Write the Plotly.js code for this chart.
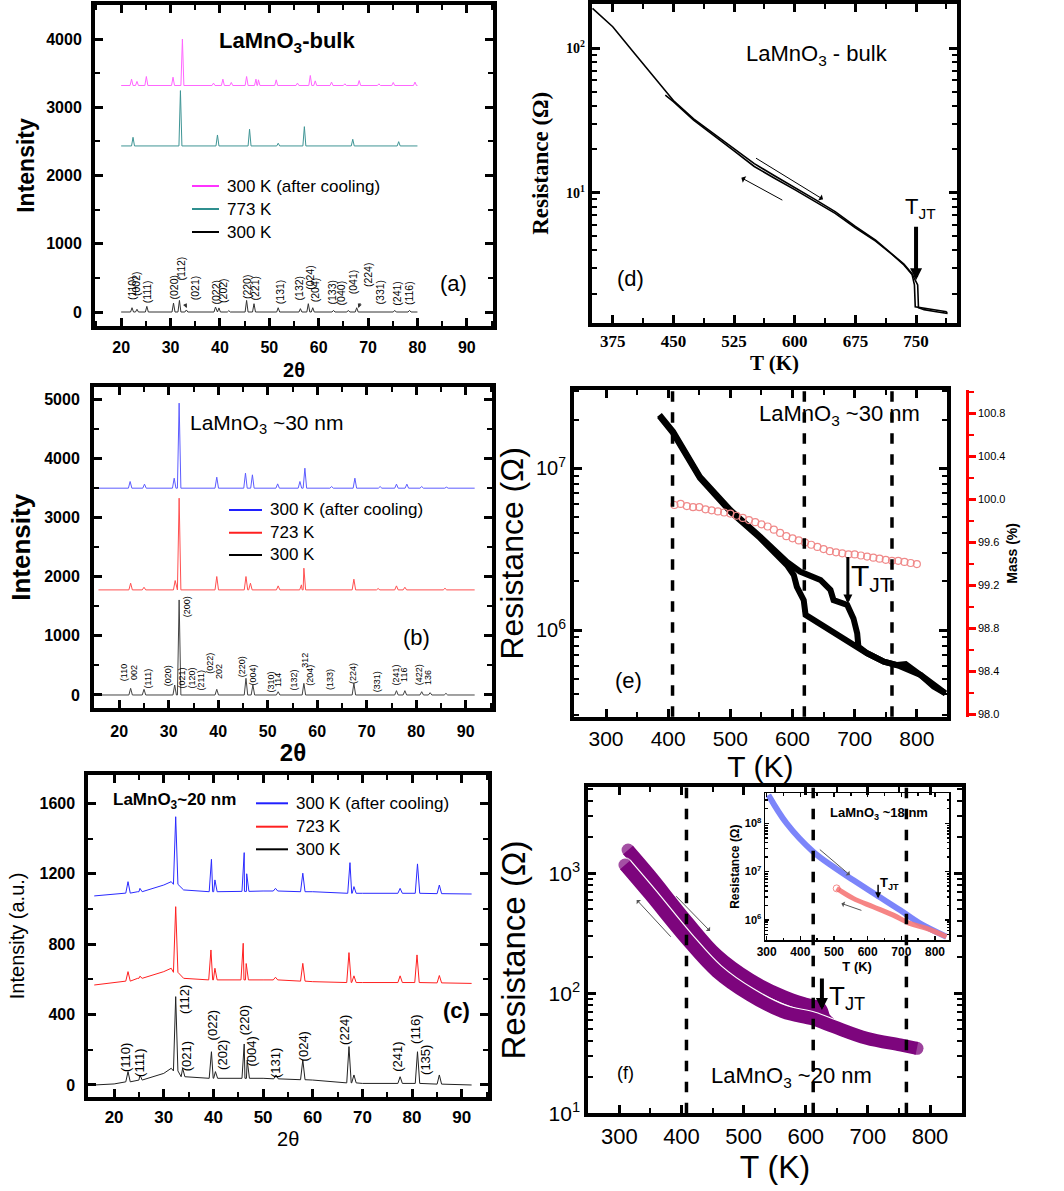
<!DOCTYPE html>
<html><head><meta charset="utf-8">
<script src="https://cdn.plot.ly/plotly-3.0.1.min.js"></script>
<style>body{margin:0;background:#fff}#plot{width:1064px;height:1191px}</style>
</head><body><div id="plot"></div>
<script>
// ================= DATA =================
// Legend names
const namesA = ['300 K (after cooling)', '773 K', '300 K'];
const namesBC = ['300 K (after cooling)', '723 K', '300 K'];

// (a) LaMnO3 bulk XRD : peak positions (2θ) and peak tops (intensity), flat baselines
const a_cool_pos = [22.1, 23.2, 25.1, 30.5, 32.4, 38.7, 40.6, 42.3, 45.4, 47.3, 47.8, 51.4, 55.7, 58.3, 59.3, 62.6, 65.3, 68.2, 72.2, 75.1, 79.5];
const a_cool_top = [3413, 3380, 3452, 3442, 4000, 3355, 3413, 3365, 3452, 3413, 3403, 3403, 3355, 3467, 3388, 3370, 3345, 3393, 3345, 3365, 3370];
const a_cool_base = 3320;
const a_hot_pos = [22.4, 32.0, 39.5, 46.0, 51.8, 57.1, 66.9, 76.2];
const a_hot_top = [2561, 3245, 2595, 2679, 2474, 2717, 2532, 2497];
const a_hot_base = 2434;
const a_rt_pos = [22.2, 23.2, 25.2, 30.6, 31.8, 33.2, 39.1, 39.8, 41.8, 45.4, 46.9, 51.8, 56.3, 57.9, 58.8, 63.0, 66.0, 67.7, 75.4, 78.4];
const a_rt_top = [63, 40, 83, 130, 170, 30, 73, 60, 20, 170, 122, 63, 49, 122, 63, 24, 24, 63, 24, 24];
const a_rt_base = 0;
const a_range2t = [20, 80];
const a_hkl = ['(110)','(002)','(111)','(020)','(112)','(021)','(022)','(202)','(220)','(221)','(131)','(132)','(024)','(204)','(133)','(040)','(041)','(224)','(331)','(241)','(116)'];
const a_hkl_2t = [22.2, 23.0, 25.3, 30.6, 32.2, 35.0, 39.3, 40.6, 45.5, 47.2, 52.2, 56.1, 58.2, 59.3, 62.6, 64.6, 67.0, 70.0, 72.5, 75.8, 78.3];
const a_hkl_I = [352, 425, 293, 367, 645, 352, 293, 322, 367, 352, 293, 352, 513, 322, 293, 279, 440, 542, 293, 279, 279];

// (b) LaMnO3 ~30 nm XRD
const b_cool_pos = [22.2, 25.1, 31.1, 32.1, 39.7, 45.5, 46.9, 52.0, 56.5, 57.5, 62.9, 67.6, 72.7, 76.0, 78.1, 81.1, 86.1];
const b_cool_top = [3610, 3565, 3666, 4935, 3683, 3751, 3723, 3570, 3610, 3835, 3525, 3666, 3525, 3565, 3565, 3525, 3514];
const b_cool_base = 3497;
const b_hot_pos = [22.3, 25.0, 31.3, 32.1, 39.7, 45.6, 46.5, 52.1, 56.8, 57.3, 67.4, 72.3, 76.0, 77.7, 85.8];
const b_hot_top = [1890, 1822, 1935, 3328, 2003, 2003, 1890, 1845, 1862, 2144, 1958, 1800, 1845, 1822, 1805];
const b_hot_base = 1777;
const b_rt_pos = [22.3, 25.0, 31.2, 32.1, 39.7, 45.6, 47.0, 52.1, 57.3, 67.4, 76.0, 77.7, 81.1, 82.8, 86.0];
const b_rt_top = [113, 96, 169, 1607, 96, 282, 169, 56, 197, 197, 73, 73, 56, 39, 28];
const b_rt_base = 0;
const b_range2t = [15.8, 91.8];
const b_hkl = ['(110','002','(111)','(020)','(200)','(021)','(120)','(211)','(022)','202','(220)','(004)','(310)','114','(132)','312','(204)','(133)','(224)','(331)','(241)','116','(422)','136'];
const b_hkl_2t = [21.0, 23.0, 25.9, 29.9, 33.6, 32.6, 34.6, 36.6, 38.3, 40.0, 44.7, 47.1, 50.6, 52.1, 55.2, 57.5, 58.5, 62.6, 67.2, 72.0, 76.0, 77.5, 80.6, 82.4];
const b_hkl_I = [372, 372, 288, 321, 1494, 288, 288, 254, 541, 394, 479, 338, 225, 254, 254, 592, 338, 254, 372, 225, 338, 338, 338, 288];

// (c) LaMnO3 ~20 nm XRD : baselines are curved, given as points; peaks with top and foot level
const c_cool_bx = [16, 25, 30, 31.5, 34, 40, 50, 60, 70, 80, 92];
const c_cool_by = [1074, 1098, 1136, 1155, 1108, 1098, 1102, 1098, 1089, 1089, 1085];
const c_cool_pos = [22.8, 25.2, 32.4, 39.6, 40.3, 46.2, 46.7, 52.5, 58.0, 67.5, 68.3, 77.6, 81.1, 85.5];
const c_cool_top = [1155, 1117, 1524, 1282, 1165, 1320, 1200, 1117, 1203, 1263, 1127, 1117, 1256, 1136];
const c_cool_foot = [1090, 1098, 1140, 1098, 1098, 1100, 1100, 1102, 1098, 1089, 1089, 1089, 1089, 1087];
const c_hot_bx = [16, 25, 30, 31.5, 34, 40, 50, 60, 70, 80, 92];
const c_hot_by = [568, 606, 644, 663, 606, 597, 597, 587, 582, 582, 577];
const c_hot_pos = [22.8, 25.2, 32.4, 39.5, 40.3, 46.0, 46.6, 52.5, 58.0, 67.3, 68.3, 77.6, 81.0, 85.5];
const c_hot_top = [644, 618, 1013, 767, 663, 805, 690, 612, 691, 752, 620, 620, 739, 622];
const c_hot_foot = [590, 606, 640, 597, 597, 597, 597, 597, 590, 582, 582, 582, 582, 580];
const c_rt_bx = [16, 20, 25, 30, 31.5, 33.5, 40, 50, 60, 70, 80, 92];
const c_rt_by = [0, 6, 28, 66, 95, 47, 38, 38, 28, 9, 9, 0];
const c_rt_pos = [22.8, 25.2, 32.4, 33.8, 39.6, 40.4, 46.2, 46.8, 52.6, 58.0, 67.3, 68.3, 77.6, 81.1, 85.5];
const c_rt_top = [76, 57, 502, 95, 189, 76, 233, 142, 57, 142, 218, 57, 47, 189, 57];
const c_rt_foot = [18, 28, 80, 47, 38, 38, 38, 38, 35, 30, 12, 12, 9, 9, 5];
const c_hkl = ['(110)','(111)','(112)','(021)','(022)','(202)','(220)','(004)','(131)','(024)','(224)','(241)','(116)','(135)'];
const c_hkl_2t = [22.2, 25.2, 34.3, 34.6, 40.0, 41.7, 46.2, 47.7, 52.6, 58.2, 66.5, 77.2, 80.8, 82.6];
const c_hkl_I = [153, 125, 483, 161, 341, 170, 369, 188, 125, 218, 313, 161, 313, 142];

// (d) bulk resistance
const d_heat_T = [350, 375, 400, 425, 450, 475, 500, 525, 550, 575, 600, 625, 650, 675, 700, 720, 735, 745, 750, 752, 753, 760, 775, 788, 788];
const d_heat_R = [189, 141, 95, 64, 43.5, 32.5, 25.6, 20.3, 15.9, 13.1, 10.9, 9.0, 7.4, 5.85, 4.7, 3.8, 3.2, 2.75, 2.42, 2.3, 1.6, 1.55, 1.5, 1.46, 1.5];
const d_cool_T = [788, 775, 760, 749, 748, 745, 735, 720, 700, 675, 650, 625, 600, 575, 550, 525, 500, 475, 450, 440];
const d_cool_R = [1.5, 1.54, 1.58, 1.62, 2.3, 2.72, 3.16, 3.75, 4.62, 5.72, 7.2, 8.75, 10.5, 12.6, 15.2, 19.5, 24.8, 31.8, 42.8, 47.5];
const d_TJT = 750;

// (e) ~30 nm resistance and TGA mass
const e_heat_T = [386, 408, 451, 500, 548, 591, 612, 645, 661, 666, 688, 698, 704, 706, 720, 747, 768, 782, 806, 827, 846];
const e_heat_R = [2.14e7, 1.68e7, 8.87e6, 5.52e6, 3.78e6, 2.64e6, 2.30e6, 2.04e6, 1.77e6, 1.53e6, 1.43e6, 1.18e6, 9.55e5, 7.89e5, 7.18e5, 6.37e5, 6.07e5, 6.16e5, 5.27e5, 4.47e5, 4.06e5];
const e_cool_T = [846, 806, 768, 747, 720, 698, 666, 634, 621, 618, 607, 602, 591, 548, 500, 451, 408, 386];
const e_cool_R = [4.06e5, 5.27e5, 6.07e5, 6.37e5, 7.18e5, 8.07e5, 9.55e5, 1.15e6, 1.24e6, 1.53e6, 1.85e6, 2.19e6, 2.52e6, 3.70e6, 5.40e6, 8.70e6, 1.65e7, 2.10e7];
const e_mass_T = [410, 420, 430, 440, 450, 460, 470, 480, 490, 500, 510, 520, 530, 540, 550, 560, 570, 580, 590, 600, 610, 620, 630, 640, 650, 660, 670, 680, 690, 700, 710, 720, 730, 740, 750, 760, 770, 780, 790, 800];
const e_mass = [99.95, 99.96, 99.94, 99.93, 99.93, 99.91, 99.90, 99.89, 99.88, 99.87, 99.85, 99.83, 99.81, 99.79, 99.77, 99.75, 99.72, 99.69, 99.66, 99.64, 99.62, 99.60, 99.58, 99.56, 99.54, 99.52, 99.51, 99.50, 99.49, 99.49, 99.48, 99.47, 99.46, 99.45, 99.44, 99.43, 99.43, 99.42, 99.41, 99.40];
const e_TJT = 689;
const e_dash_T = [407, 619, 760];

// (f) ~20 nm resistance
const f_heat_T = [314, 349, 408, 457, 510, 564, 600, 623, 630, 645, 700, 752, 779];
const f_heat_R = [1563, 960, 400, 207, 130, 94, 81, 75, 62, 53, 42, 37.1, 34.8];
const f_cool_T = [779, 752, 698, 645, 612, 564, 510, 457, 408, 349, 309];
const f_cool_R = [34.8, 37.1, 42.2, 52.7, 61, 70, 97, 152, 285, 670, 1173];
const f_TJT = 626;
const f_dash_T = [408, 612, 762];

// inset ~18 nm
const in_heat_T = [305, 359, 438, 498, 557, 626, 696, 755, 834];
const in_heat_R = [3.85e8, 1e8, 2.58e7, 1.26e7, 6.7e6, 3.28e6, 1.6e6, 8.5e5, 4.5e5];
const in_cool_T = [508, 557, 616, 676, 725, 775, 834];
const in_cool_R = [4.5e6, 2.8e6, 1.88e6, 1.26e6, 8.5e5, 6.7e5, 4.5e5];
const in_TJT = 631;

// ================= BUILD =================
const W = 1064, H = 1191;
const PX = v => v / W;
const PY = v => 1 - v / H;
const SANS = 'Liberation Sans, Arial, sans-serif';
const SERIF = 'Liberation Serif, Times New Roman, serif';

function xrd(pos, top, foot, bx, by, w, color, xa, ya) {
  const pts = [];
  for (let i = 0; i < bx.length; i++) pts.push([bx[i], by[i]]);
  for (let i = 0; i < pos.length; i++) {
    const f = Array.isArray(foot) ? foot[i] : foot;
    pts.push([pos[i] - w, f], [pos[i], top[i]], [pos[i] + w, f]);
  }
  pts.sort((p, q) => p[0] - q[0]);
  return {type: 'scatter', mode: 'lines', x: pts.map(p => p[0]), y: pts.map(p => p[1]),
    xaxis: xa, yaxis: ya, line: {color: color, width: 1}, showlegend: false, hoverinfo: 'skip'};
}
const flat = (r, b) => [[r[0], r[1]], [b, b]];
// round end caps for the thick bands: marker only on the first and last point
const endSizes = (n, s) => Array.from({length: n}, (_, i) => (i === 0 || i === n - 1) ? s : 0);

const traces = [];
// (a)
let fa = flat(a_range2t, a_cool_base);
traces.push(xrd(a_cool_pos, a_cool_top, a_cool_base, fa[0], fa[1], 0.3, '#ff66ff', 'x', 'y'));
fa = flat(a_range2t, a_hot_base);
traces.push(xrd(a_hot_pos, a_hot_top, a_hot_base, fa[0], fa[1], 0.3, '#3f9595', 'x', 'y'));
fa = flat(a_range2t, a_rt_base);
traces.push(xrd(a_rt_pos, a_rt_top, a_rt_base, fa[0], fa[1], 0.3, '#333333', 'x', 'y'));
// (b)
let fb = flat(b_range2t, b_cool_base);
traces.push(xrd(b_cool_pos, b_cool_top, b_cool_base, fb[0], fb[1], 0.35, '#5c5cff', 'x2', 'y2'));
fb = flat(b_range2t, b_hot_base);
traces.push(xrd(b_hot_pos, b_hot_top, b_hot_base, fb[0], fb[1], 0.35, '#ff5050', 'x2', 'y2'));
fb = flat(b_range2t, b_rt_base);
traces.push(xrd(b_rt_pos, b_rt_top, b_rt_base, fb[0], fb[1], 0.35, '#444444', 'x2', 'y2'));
// (c)
traces.push(xrd(c_cool_pos, c_cool_top, c_cool_foot, c_cool_bx, c_cool_by, 0.45, '#2a2aff', 'x3', 'y3'));
traces.push(xrd(c_hot_pos, c_hot_top, c_hot_foot, c_hot_bx, c_hot_by, 0.45, '#ff2020', 'x3', 'y3'));
traces.push(xrd(c_rt_pos, c_rt_top, c_rt_foot, c_rt_bx, c_rt_by, 0.45, '#222222', 'x3', 'y3'));
// (d)
traces.push({type: 'scatter', mode: 'lines', x: d_heat_T, y: d_heat_R, xaxis: 'x4', yaxis: 'y4', line: {color: 'black', width: 1.6}, showlegend: false});
traces.push({type: 'scatter', mode: 'lines', x: d_cool_T, y: d_cool_R, xaxis: 'x4', yaxis: 'y4', line: {color: 'black', width: 1.6}, showlegend: false});
// (e)
traces.push({type: 'scatter', mode: 'markers', x: e_mass_T, y: e_mass, xaxis: 'x5', yaxis: 'y7', marker: {symbol: 'circle-open', size: 7, color: '#f08a8a', line: {width: 1.2}}, showlegend: false});
traces.push({type: 'scatter', mode: 'lines', x: e_heat_T, y: e_heat_R, xaxis: 'x5', yaxis: 'y5', line: {color: 'black', width: 6}, showlegend: false});
traces.push({type: 'scatter', mode: 'lines', x: e_cool_T, y: e_cool_R, xaxis: 'x5', yaxis: 'y5', line: {color: 'black', width: 6}, showlegend: false});
// (f) thick bands, each with a thin white outline so the two branches stay distinct
const purple = '#7d057d';
function band(T, R, col, w, xa, ya) {
  return {type: 'scatter', mode: 'lines+markers', x: T, y: R, xaxis: xa, yaxis: ya, line: {color: col, width: w, shape: 'spline'},
    marker: {color: col, size: endSizes(T.length, w), line: {width: 0}}, showlegend: false, hoverinfo: 'skip'};
}
traces.push(band(f_heat_T, f_heat_R, 'white', 15, 'x6', 'y6'));
traces.push(band(f_heat_T, f_heat_R, purple, 13, 'x6', 'y6'));
traces.push(band(f_cool_T, f_cool_R, 'white', 15.5, 'x6', 'y6'));
traces.push(band(f_cool_T, f_cool_R, purple, 13, 'x6', 'y6'));
// inset
traces.push({type: 'scatter', mode: 'lines', x: in_heat_T, y: in_heat_R, xaxis: 'x8', yaxis: 'y8', line: {color: 'rgba(110,120,250,0.9)', width: 6, shape: 'spline'}, showlegend: false});
traces.push({type: 'scatter', mode: 'lines+markers', x: in_cool_T, y: in_cool_R, xaxis: 'x8', yaxis: 'y8', line: {color: 'rgba(245,120,120,0.9)', width: 5, shape: 'spline'},
  marker: {symbol: 'circle-open', color: '#f06060', size: in_cool_T.map((_, i) => i === 0 ? 7 : 0)}, showlegend: false});

// ---------- axes ----------
function ax(o) {
  return Object.assign({showline: true, linecolor: 'black', linewidth: 4, mirror: 'ticks', showgrid: false, zeroline: false,
    ticks: 'inside', ticklen: 8, tickwidth: 3, tickcolor: 'black'}, o);
}
const minorLin = d => ({dtick: d, ticks: 'inside', ticklen: 5, tickwidth: 2, tickcolor: 'black'});
const logMinor = (vals) => ({tickmode: 'array', tickvals: vals, ticks: 'inside', ticklen: 5, tickwidth: 2, tickcolor: 'black'});
const boldSans = s => ({family: SANS, size: s, weight: 'bold', color: 'black'});
const sans = s => ({family: SANS, size: s, color: 'black'});
const boldSerif = s => ({family: SERIF, size: s, weight: 'bold', color: 'black'});

const layout = {
  width: W, height: H, margin: {l: 0, r: 0, t: 0, b: 0},
  paper_bgcolor: 'white', plot_bgcolor: 'rgba(0,0,0,0)', showlegend: false,
  font: {family: SANS, color: 'black'},
  xaxis: ax({domain: [PX(95), PX(493)], anchor: 'y', range: [14.7, 95.3], tick0: 0, dtick: 10, minor: minorLin(5),
    ticklabelstandoff: 4, tickfont: boldSans(16), title: {text: '2θ', font: boldSans(20), standoff: 9}}),
  yaxis: ax({domain: [PY(326), PY(5)], anchor: 'x', range: [-205, 4500], tick0: 0, dtick: 1000, minor: minorLin(500),
    ticklabelstandoff: 6, tickfont: boldSans(16), title: {text: 'Intensity', font: boldSans(23), standoff: 6}}),
  xaxis2: ax({domain: [PX(94), PX(492)], anchor: 'y2', range: [14.9, 95.3], tick0: 0, dtick: 10, minor: minorLin(5),
    ticklabelstandoff: 6, tickfont: boldSans(16), title: {text: '2θ', font: boldSans(24), standoff: 6}}),
  yaxis2: ax({domain: [PY(708), PY(386.7)], anchor: 'x2', range: [-220, 5213], tick0: 0, dtick: 1000, minor: minorLin(500),
    ticklabelstandoff: 7, tickfont: boldSans(16), title: {text: 'Intensity', font: boldSans(26), standoff: 7}}),
  xaxis3: ax({domain: [PX(88.3), PX(488)], anchor: 'y3', range: [14.8, 95.3], tick0: 0, dtick: 10, minor: minorLin(5),
    ticklabelstandoff: 2, tickfont: boldSans(17), title: {text: '2θ', font: sans(20), standoff: 7}}),
  yaxis3: ax({domain: [PY(1096.7), PY(775)], anchor: 'x3', range: [-66.5, 1761], tick0: 0, dtick: 400, minor: minorLin(200),
    ticklabelstandoff: 6, tickfont: boldSans(16), title: {text: 'Intensity (a.u.)', font: sans(20), standoff: 10}}),
  xaxis4: ax({domain: [PX(591.7), PX(957.3)], anchor: 'y4', range: [349, 801], tick0: 0, dtick: 75, minor: minorLin(37.5),
    tickfont: boldSerif(17), title: {text: 'T (K)', font: boldSerif(21), standoff: 2}}),
  yaxis4: ax({domain: [PY(322.7), PY(4)], anchor: 'x4', type: 'log', range: [0.1, 2.307],
    tickmode: 'array', tickvals: [10, 100], ticktext: ['10<sup>1</sup>', '10<sup>2</sup>'],
    minor: logMinor([2, 3, 4, 5, 6, 7, 8, 9, 20, 30, 40, 50, 60, 70, 80, 90, 200]),
    tickfont: boldSerif(14), title: {text: 'Resistance (Ω)', font: boldSerif(23), standoff: 12}}),
  xaxis5: ax({domain: [PX(574), PX(946.7)], anchor: 'y5', range: [248.5, 848], tick0: 0, dtick: 100, minor: minorLin(50),
    tickfont: sans(21), title: {text: 'T (K)', font: sans(30), standoff: 2}}),
  yaxis5: ax({domain: [PY(716.7), PY(390)], anchor: 'x5', type: 'log', range: [5.464, 7.484],
    tickmode: 'array', tickvals: [1e6, 1e7], ticktext: ['10<sup>6</sup>', '10<sup>7</sup>'],
    minor: logMinor([3e5, 4e5, 5e5, 6e5, 7e5, 8e5, 9e5, 2e6, 3e6, 4e6, 5e6, 6e6, 7e6, 8e6, 9e6, 2e7, 3e7]),
    tickfont: sans(20), title: {text: 'Resistance (Ω)', font: sans(32), standoff: 4}}),
  yaxis7: {overlaying: 'y5', side: 'right', anchor: 'free', position: PX(966.7), range: [97.98, 101.02],
    showline: true, linecolor: '#ff0000', linewidth: 3, showgrid: false, zeroline: false,
    tick0: 98, dtick: 0.4, tickformat: '.1f', ticks: 'outside', ticklen: 7, tickwidth: 3, tickcolor: '#ff0000',
    minor: {dtick: 0.2, ticks: 'outside', ticklen: 5, tickwidth: 2, tickcolor: '#ff0000'},
    tickfont: sans(11), title: {text: 'Mass (%)', font: boldSans(14), standoff: 2}},
  xaxis6: ax({domain: [PX(588.3), PX(961.7)], anchor: 'y6', range: [250, 851], tick0: 0, dtick: 100, minor: minorLin(50),
    tickfont: sans(22), title: {text: 'T (K)', font: sans(32), standoff: 2}}),
  yaxis6: ax({domain: [PY(1113.3), PY(786.7)], anchor: 'x6', type: 'log', range: [1, 3.722],
    tickmode: 'array', tickvals: [10, 100, 1000], ticktext: ['10<sup>1</sup>', '10<sup>2</sup>', '10<sup>3</sup>'],
    minor: logMinor([20, 30, 40, 50, 60, 70, 80, 90, 200, 300, 400, 500, 600, 700, 800, 900, 2000, 3000, 4000, 5000]),
    tickfont: sans(21), title: {text: 'Resistance (Ω)', font: sans(33), standoff: 14}}),
  xaxis8: {domain: [PX(765), PX(949.3)], anchor: 'y8', range: [295, 842.5], tick0: 0, dtick: 100,
    showline: true, linecolor: 'black', linewidth: 1.5, mirror: 'ticks', showgrid: false, zeroline: false,
    ticks: 'inside', ticklen: 4, tickwidth: 1.5, tickcolor: 'black', minor: {dtick: 50, ticks: 'inside', ticklen: 2.5, tickcolor: 'black'},
    tickfont: boldSans(12), title: {text: 'T (K)', font: boldSans(13), standoff: 0}},
  yaxis8: {domain: [PY(940), PY(793.3)], anchor: 'x8', type: 'log', range: [5.586, 8.62],
    showline: true, linecolor: 'black', linewidth: 1.5, mirror: 'ticks', showgrid: false, zeroline: false,
    ticks: 'inside', ticklen: 4, tickwidth: 1.5, tickcolor: 'black',
    tickmode: 'array', tickvals: [1e6, 1e7, 1e8], ticktext: ['10<sup>6</sup>', '10<sup>7</sup>', '10<sup>8</sup>'],
    minor: {tickmode: 'array', tickvals: [5e5, 6e5, 7e5, 8e5, 9e5, 2e6, 3e6, 4e6, 5e6, 6e6, 7e6, 8e6, 9e6, 2e7, 3e7, 4e7, 5e7, 6e7, 7e7, 8e7, 9e7, 2e8, 3e8, 4e8], ticks: 'inside', ticklen: 2.5, tickcolor: 'black'},
    tickfont: boldSans(11), title: {text: 'Resistance (Ω)', font: boldSans(12), standoff: 2}},
  shapes: [], annotations: []
};

const A = layout.annotations, S = layout.shapes;
function txt(x, y, text, font, extra) {
  A.push(Object.assign({xref: 'paper', yref: 'paper', x: PX(x), y: PY(y), text: text, showarrow: false,
    xanchor: 'center', yanchor: 'middle', font: font}, extra || {}));
}
function legend(x0, x1, ys, names, colors, fs) {
  for (let i = 0; i < names.length; i++) {
    S.push({type: 'line', xref: 'paper', yref: 'paper', x0: PX(x0), x1: PX(x1), y0: PY(ys[i]), y1: PY(ys[i]), line: {color: colors[i], width: 2}});
    txt(x1 + 6, ys[i], names[i], sans(fs), {xanchor: 'left'});
  }
}
function hkl(labels, xs, ys, xa, ya, fs) {
  for (let i = 0; i < labels.length; i++) {
    A.push({xref: xa, yref: ya, x: xs[i], y: ys[i], text: labels[i], showarrow: false, textangle: -90,
      xanchor: 'center', yanchor: 'middle', font: sans(fs)});
  }
}
function arrow(xa, ya, x, y, axp, ayp, head, size, width, color) {
  A.push({xref: xa, yref: ya, x: x, y: y, text: ' ', showarrow: true, ax: axp, ay: ayp, arrowhead: head, arrowsize: size, arrowwidth: width, arrowcolor: color});
}

// panel texts
txt(286.7, 42, 'LaMnO<sub>3</sub>-bulk', boldSans(22));
txt(453, 283, '(a)', sans(22));
legend(192, 219, [186, 209, 232], namesA, ['#ff33ff', '#2f8f8f', '#000000'], 17);
hkl(a_hkl, a_hkl_2t, a_hkl_I, 'x', 'y', 10.5);
arrow('x', 'y', 33.3, 60, -5, -10, 2, 0.7, 1.2, '#333');
arrow('x', 'y', 66.5, 40, 3, -9, 2, 0.7, 1.2, '#333');
arrow('x', 'y', 68.0, 60, 5, -12, 2, 0.7, 1.2, '#333');

txt(266.7, 424, 'LaMnO<sub>3</sub> ~30 nm', sans(21));
txt(416, 637, '(b)', sans(22));
legend(229, 262, [510, 532.7, 555], namesBC, ['#2020ff', '#ff2020', '#000000'], 17);
hkl(b_hkl, b_hkl_2t, b_hkl_I, 'x2', 'y2', 9);

txt(174, 801, 'LaMnO<sub>3</sub>~20 nm', boldSans(17));
txt(456, 1010, '(c)', boldSans(22));
legend(256, 288, [803.3, 826.7, 849.3], namesBC, ['#2020ff', '#ff2020', '#000000'], 17);
hkl(c_hkl, c_hkl_2t, c_hkl_I, 'x3', 'y3', 13);

txt(817, 55, 'LaMnO<sub>3</sub> - bulk', sans(22));
txt(630, 278, '(d)', sans(22));
txt(920, 208, 'T<sub>JT</sub>', sans(22));
arrow('x4', 'y4', d_TJT, Math.log10(2.48), 0, -62, 2, 0.6, 4, 'black');
arrow('x4', 'y4', 635, Math.log10(9.0), -70, -43, 1, 1.2, 1, 'black');
arrow('x4', 'y4', 534, Math.log10(12.7), 44, 24, 1, 1.2, 1, 'black');

txt(839, 415, 'LaMnO<sub>3</sub> ~30 nm', sans(22));
txt(628, 680, '(e)', sans(22));
txt(872, 578, 'T<sub>JT</sub>', sans(30));
arrow('x5', 'y5', e_TJT, Math.log10(1.46e6), 0, -55, 2, 0.6, 3, 'black');
e_dash_T.forEach(t => S.push({type: 'line', xref: 'x5', yref: 'y5 domain', x0: t, x1: t, y0: 0, y1: 1, layer: 'above', line: {color: 'black', width: 3.5, dash: 'dash'}}));

txt(791, 1077, 'LaMnO<sub>3</sub> ~20 nm', sans(22));
txt(625, 1073, '(f)', sans(18));
txt(847, 997, 'T<sub>JT</sub>', sans(26));
arrow('x6', 'y6', f_TJT, Math.log10(72.6), 0, -40, 2, 0.6, 4, 'black');
arrow('x6', 'y6', 446, Math.log10(330), -37, -38, 1, 1, 1, '#555');
arrow('x6', 'y6', 328, Math.log10(600), 37, 40, 1, 1, 1, '#555');
f_dash_T.forEach(t => S.push({type: 'line', xref: 'x6', yref: 'y6 domain', x0: t, x1: t, y0: 0, y1: 1, layer: 'above', line: {color: 'black', width: 3.5, dash: 'dash'}}));

txt(879, 813, 'LaMnO<sub>3</sub> ~18 nm', boldSans(13));
txt(889, 883, 'T<sub>JT</sub>', boldSans(13));
arrow('x8', 'y8', in_TJT, Math.log10(2.8e6), 0, -22, 2, 0.8, 1.5, 'black');
arrow('x8', 'y8', 547, Math.log10(8.5e6), -33, -28, 1, 1, 1, '#555');
arrow('x8', 'y8', 522, Math.log10(2.2e6), 23, 8, 1, 1, 1, '#555');

Plotly.newPlot('plot', traces, layout, {staticPlot: true, displayModeBar: false});
</script></body></html>
